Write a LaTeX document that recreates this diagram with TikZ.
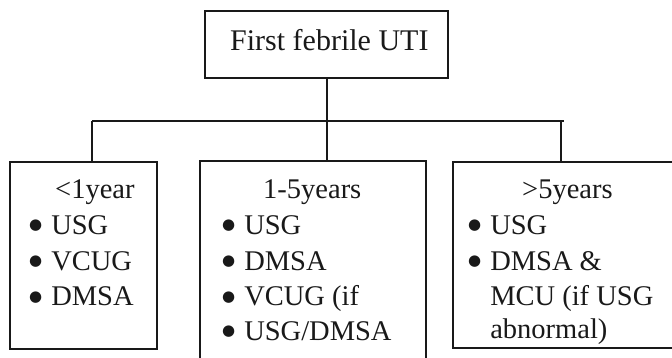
\documentclass[tikz,border=0pt]{standalone}
\usepackage{fontspec}
\setmainfont{Liberation Serif}
\newfontfamily\bulfont{DejaVu Sans}
\newcommand\mybul{\raisebox{4.5pt}{\bulfont\fontsize{15}{15}\selectfont ●}}
\newcommand\myind{\hphantom{\mybul}\hspace{9pt}}
\begin{document}
\begin{tikzpicture}[x=1pt,y=-1pt,
  box/.style={draw=black!90,line width=2.3pt,minimum width=#1},
  txt/.style={anchor=base west,inner sep=0pt,font=\fontsize{28.5}{30}\selectfont,text=black!90},
  conn/.style={draw=black!90,line width=2.3pt}]
\useasboundingbox (0,0) rectangle (672,357);
\clip (0,0) rectangle (672,357);
% boxes
\node[box=243pt,minimum height=67pt] (top) at (326.5,44.5) {};
\node[box=147pt,minimum height=187pt] (left) at (83.5,255.5) {};
\node[box=226pt,minimum height=210pt] (mid) at (313,266) {};
\node[box=231pt,minimum height=186pt] (right) at (568.5,255) {};
% title
\node[anchor=base west,inner sep=0pt,font=\fontsize{30}{32}\selectfont,text=black!90] (title) at (230,50) {First febrile UTI};
% left texts
\node[txt] (l0) at (55,198) {<1year};
\node[txt] (l1) at (29,234) {\mybul\hspace{9pt}USG};
\node[txt] (l2) at (29,270) {\mybul\hspace{9pt}VCUG};
\node[txt] (l3) at (29,305.5) {\mybul\hspace{9pt}DMSA};
% middle texts
\node[txt] (m0) at (263,198) {1-5years};
\node[txt] (m1) at (222,234) {\mybul\hspace{9pt}USG};
\node[txt] (m2) at (222,270) {\mybul\hspace{9pt}DMSA};
\node[txt] (m3) at (222,305.5) {\mybul\hspace{9pt}VCUG (if};
\node[txt] (m4) at (222,340) {\mybul\hspace{9pt}USG/DMSA};
% right texts
\node[txt] (r0) at (522,198) {>5years};
\node[txt] (r1) at (468,234) {\mybul\hspace{9pt}USG};
\node[txt] (r2) at (468,270) {\mybul\hspace{9pt}DMSA \&};
\node[txt] (r3) at (468,305) {\myind MCU (if USG};
\node[txt] (r4) at (468,338) {\myind abnormal)};
% connectors
\coordinate (j) at (327,121);
\coordinate (dl) at (92,121);
\coordinate (dm) at (327,121);
\coordinate (dr) at (561,121);
\coordinate (be) at (564,121);
\draw[conn] (top.south -| j) -- (j);
\draw[conn] (dl) -- (be);
\draw[conn] (dl) -- (dl |- left.north);
\draw[conn] (dm) -- (dm |- mid.north);
\draw[conn] (dr) -- (dr |- right.north);
\end{tikzpicture}
\end{document}
